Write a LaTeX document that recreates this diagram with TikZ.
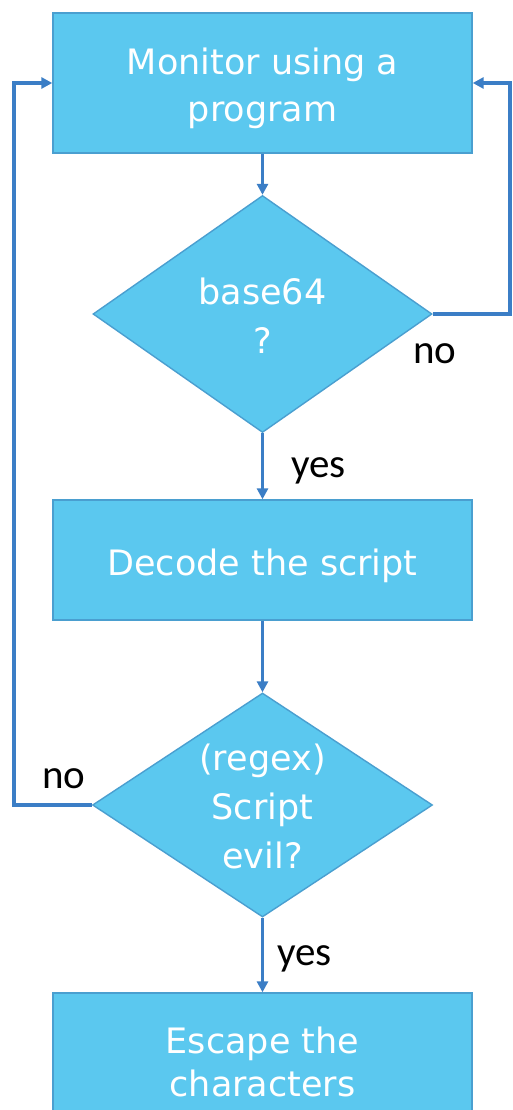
\documentclass[tikz,border=0pt]{standalone}
\usepackage{fontspec}
\setmainfont{DejaVu Sans}
\newfontfamily\lblfont{Carlito}
\usetikzlibrary{shapes.geometric,arrows.meta}
\definecolor{boxfill}{HTML}{5BC8EF}
\definecolor{boxline}{HTML}{4A9FD0}
\definecolor{conn}{HTML}{3B7EC6}
\begin{document}
\begin{tikzpicture}[x=1pt,y=-1pt,
  procbox/.style={draw=boxline, line width=1.4pt, fill=boxfill, minimum width=419pt, inner sep=0pt,
    text=white, align=center, font=\fontsize{35}{47}\selectfont},
  decision/.style={diamond, draw=boxline, line width=1.4pt, fill=boxfill, inner sep=0pt},
  dtext/.style={text=white, align=center, font=\fontsize{35}{49}\selectfont, inner sep=0pt},
  btext/.style={text=white, align=center, font=\fontsize{35}{47}\selectfont, inner sep=0pt},
  conn/.style={draw=conn, line width=3.6pt, -{Triangle[length=11pt,width=11pt]}},
  lbl/.style={text=black, font=\lblfont\fontsize{41}{41}\selectfont, inner sep=0pt, anchor=base west}]
\clip (0,0) rectangle (512,1110);
\fill[white] (0,0) rectangle (512,1110);
\node[procbox, minimum height=140pt] (b1) at (262.5,83) {};
\node[btext] (b1t) at (262.5,88) {Monitor using a\\program};
\node[decision, minimum width=339pt, minimum height=237pt] (d1) at (262.5,314) {};
\node[dtext] (d1t) at (262.5,316) {base64\\?};
\node[procbox, minimum height=120pt] (b2) at (262.5,560) {};
\node[btext] (b2t) at (262.5,566) {Decode the script};
\node[decision, minimum width=340pt, minimum height=224pt] (d2) at (262.5,805) {};
\node[dtext] (d2t) at (262.5,806) {(regex)\\Script\\evil?};
\node[procbox, minimum height=140pt] (b3) at (262.5,1063) {};
\node[btext, font=\fontsize{35}{43}\selectfont] (b3t) at (262.5,1062) {Escape the\\characters};
\coordinate (rc) at (510,314);
\coordinate (lc) at (14,805);
\draw[conn] (b1.south) -- (d1.north);
\draw[conn] (d1.south) -- (b2.north);
\draw[conn] (b2.south) -- (d2.north);
\draw[conn] (d2.south) -- (b3.north);
\draw[conn] (d1.east) -- (rc) |- (b1.east);
\draw[conn] (d2.west) -- (lc) |- (b1.west);
\node[lbl] (no1) at (413,363) {no};
\node[lbl] (yes1) at (291,477) {yes};
\node[lbl] (no2) at (42,788) {no};
\node[lbl] (yes2) at (277,965) {yes};
\end{tikzpicture}
\end{document}
